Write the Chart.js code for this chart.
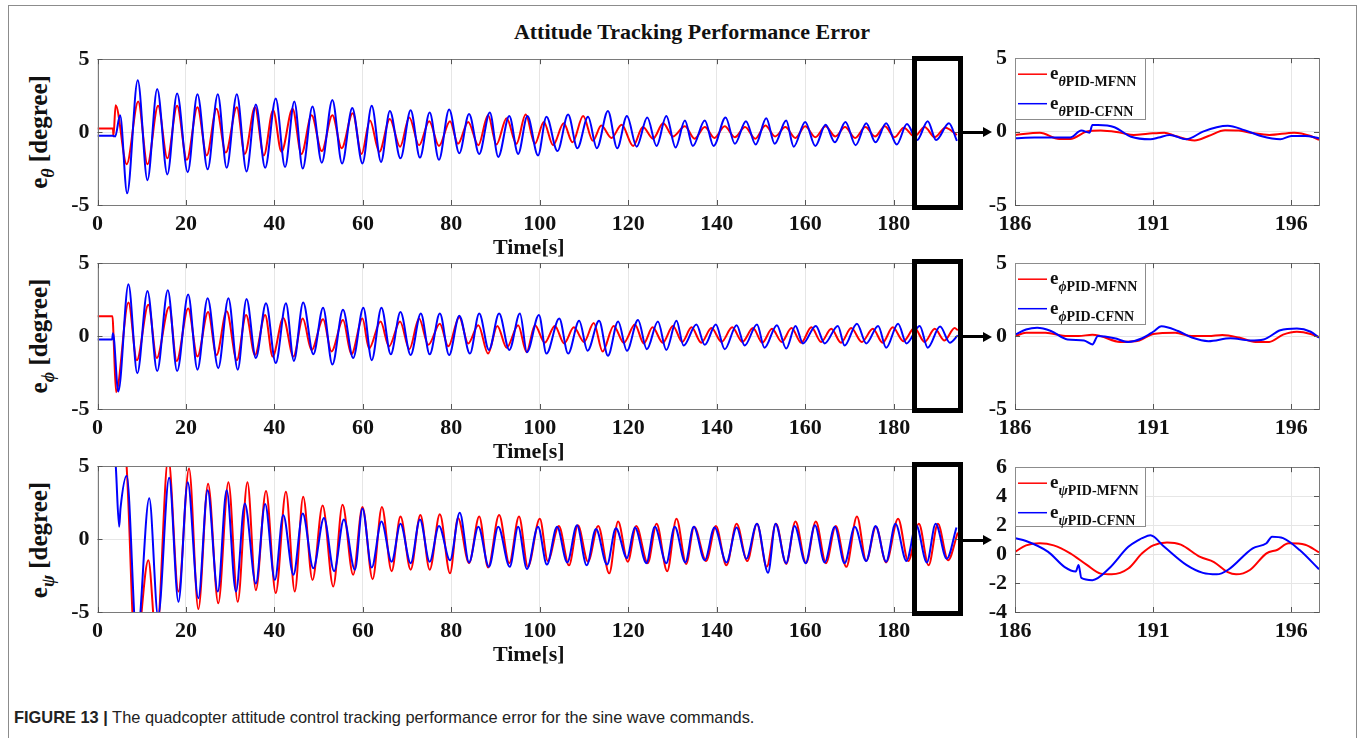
<!DOCTYPE html>
<html>
<head>
<meta charset="utf-8">
<script src="https://cdn.jsdelivr.net/npm/chart.js@4.4.1/dist/chart.umd.min.js"></script>
<style>
  body { margin: 0; background: #fff; width: 1358px; height: 738px; overflow: hidden; position: relative; font-family: 'Liberation Serif', serif; }
  .frame { position: absolute; left: 8px; top: 5px; width: 1347px; height: 760px; border: 1px solid #8c8c8c; }
  canvas { position: absolute; }
  .title { position: absolute; left: 692px; top: 32px; transform: translate(-50%, -50%); font-weight: bold; font-size: 22px; white-space: nowrap; color: #111; }
  .ylab { position: absolute; left: 42px; transform: translate(-50%, -50%) rotate(-90deg); font-weight: bold; font-size: 25px; white-space: nowrap; color: #111; }
  .ylab sub { font-size: 18px; font-style: italic; vertical-align: -7px; }
  .zoombox { position: absolute; border: 5px solid #000; box-sizing: border-box; }
  .arrow { position: absolute; height: 3px; background: #000; }
  .head { position: absolute; width: 0; height: 0; border-left: 9px solid #000; border-top: 5px solid transparent; border-bottom: 5px solid transparent; }
  .caption { position: absolute; left: 14px; top: 708px; font-family: 'Liberation Sans', sans-serif; font-size: 16.4px; color: #222; white-space: nowrap; }
</style>
</head>
<body>
<div class="frame"></div>
<div class="title">Attitude Tracking Performance Error</div>
<div class="ylab" style="top:132px">e<sub>θ</sub> [degree]</div>
<div class="ylab" style="top:336px">e<sub>ϕ</sub> [degree]</div>
<div class="ylab" style="top:540px">e<sub>ψ</sub> [degree]</div>
<div class="caption"><b>FIGURE 13 |</b> The quadcopter attitude control tracking performance error for the sine wave commands.</div>

<script>
// tick labels
const mainXTicks = [0, 20, 40, 60, 80, 100, 120, 140, 160, 180];
const mainYTicks = [-5, 0, 5];
const zoomXTicks = [186, 191, 196];
const zoomYTicks = [-5, 0, 5];
const zoomPsiYTicks = [-4, -2, 0, 2, 4, 6];

// series names
const seriesNames = ['PID-MFNN', 'PID-CFNN'];

// theta error, full run [time, value] read at peaks and troughs
const thetaMfnn = [[0,0.25],[3.5,0.25],[3.6,-0.3],[4.1,1.85],[6.6,-2.2],[9.2,2.1],[11.3,-2.2],[13.7,1.8],[15.8,-1.8],[18.0,1.8],[20.2,-1.9],[22.6,1.7],[24.7,-1.6],[26.9,1.6],[29.0,-1.4],[31.5,1.7],[33.3,-1.5],[35.6,1.7],[37.6,-1.6],[39.7,1.5],[41.6,-1.35],[44.1,1.6],[46.1,-1.5],[48.4,1.15],[50.7,-1.3],[53.1,1.15],[55.2,-1.1],[57.7,1.3],[59.7,-1.5],[61.6,0.8],[63.7,-1.35],[66.1,0.9],[68.4,-1.0],[70.5,1.0],[72.7,-0.9],[75.0,0.75],[77.2,-0.95],[79.7,0.75],[81.5,-0.8],[83.8,0.7],[86.1,-0.9],[88.3,1.15],[90.2,-0.85],[92.5,0.95],[94.7,-0.8],[96.8,1.2],[98.9,-0.8],[100.9,0.7],[103.0,-0.9],[105.4,0.6],[107.4,-0.7],[109.8,1.1],[112.0,-0.6],[113.9,0.45],[116.2,-0.4],[118.5,0.5],[121.1,-0.95],[123.3,0.35],[125.6,-0.45],[127.9,0.6],[130.1,-0.3],[132.8,0.4],[135.0,-0.45],[137.3,0.35],[139.5,-0.4],[141.8,0.4],[144.1,-0.35],[146.4,0.35],[148.7,-0.45],[151.0,0.45],[153.2,-0.3],[155.5,0.35],[157.8,-0.4],[160.0,0.4],[162.3,-0.35],[164.6,0.4],[166.8,-0.3],[169.0,0.35],[171.3,-0.4],[173.6,0.35],[175.8,-0.3],[178.0,0.4],[180.2,-0.35],[182.3,0.3],[184.7,-0.3],[187.0,0.35],[189.3,-0.35],[191.7,0.3],[194.3,-0.2]];
const thetaCfnn = [[0,-0.25],[3.5,-0.25],[4.0,-0.3],[5.1,1.15],[6.7,-4.2],[9.1,3.55],[11.3,-3.3],[13.5,2.95],[15.8,-2.9],[18.0,2.65],[20.4,-2.75],[22.6,2.6],[24.9,-2.55],[27.2,2.6],[29.2,-2.45],[31.5,2.6],[33.7,-2.7],[35.8,1.9],[37.9,-2.45],[40.3,2.3],[42.4,-2.4],[44.5,2.1],[46.4,-2.5],[48.6,1.75],[50.7,-2.1],[53.1,2.2],[55.3,-2.15],[57.6,1.65],[59.9,-2.15],[62.0,1.8],[64.1,-2.05],[66.1,1.45],[68.5,-1.8],[70.8,1.5],[72.9,-1.75],[75.1,1.35],[77.2,-1.9],[79.5,1.55],[81.8,-1.45],[84.0,1.25],[86.3,-1.5],[88.7,1.35],[90.6,-1.7],[93.1,1.1],[95.1,-1.5],[97.2,1.1],[99.6,-1.6],[101.5,1.05],[104.0,-1.3],[106.4,1.2],[108.5,-1.1],[110.9,1.05],[112.9,-1.1],[115.4,1.45],[117.5,-1.1],[119.7,1.1],[121.9,-1.0],[124.3,1.0],[126.4,-0.95],[128.6,1.1],[130.7,-1.05],[132.8,0.8],[134.6,-0.95],[137.3,0.8],[139.3,-0.95],[142.0,1.0],[144.1,-0.8],[146.6,0.75],[148.8,-0.85],[151.2,0.95],[153.1,-0.8],[155.7,0.8],[157.4,-1.0],[160.0,0.7],[162.3,-0.95],[164.6,0.5],[166.7,-0.7],[169.1,0.7],[171.4,-0.9],[173.8,0.6],[175.9,-0.7],[178.3,0.6],[180.7,-0.85],[183.0,0.55],[185.3,-0.55],[187.7,0.75],[189.6,-0.55],[192.5,0.6],[194.3,-0.6]];

// phi error, full run
const phiMfnn = [[0,1.37],[3.4,1.37],[3.6,0.2],[4.2,-3.85],[7.0,2.3],[8.9,-1.65],[11.5,2.15],[13.4,-1.5],[16.2,2.0],[17.9,-1.7],[20.5,1.9],[22.6,-1.4],[25.0,1.65],[26.9,-1.3],[29.2,1.7],[31.5,-1.65],[33.6,1.45],[35.6,-1.3],[37.9,1.45],[39.6,-1.4],[42.0,1.25],[44.3,-1.4],[46.4,1.2],[48.4,-0.95],[51.0,1.15],[52.9,-1.05],[55.5,1.1],[57.4,-1.25],[59.9,1.2],[61.4,-0.85],[64.0,1.0],[65.9,-0.7],[68.4,1.0],[70.5,-0.9],[72.7,1.2],[74.8,-0.6],[77.4,0.85],[79.3,-0.7],[81.8,1.3],[83.8,-0.5],[86.1,0.75],[88.3,-1.2],[90.4,0.7],[92.5,-0.8],[95.1,0.75],[97.0,-1.1],[98.9,0.75],[101.1,-0.45],[103.4,0.7],[105.5,-0.5],[107.7,0.6],[110.0,-0.4],[112.2,0.9],[114.2,-1.05],[116.7,0.7],[119.0,-0.45],[121.5,0.8],[123.5,-0.5],[125.5,0.6],[127.8,-0.45],[130.1,0.7],[132.2,-0.4],[134.3,0.6],[136.5,-0.45],[138.8,0.55],[141.1,-0.4],[143.5,0.6],[145.8,-0.4],[148.2,0.55],[150.3,-0.45],[152.5,0.5],[154.7,-0.4],[156.9,0.55],[159.1,-0.45],[161.4,0.6],[163.6,-0.4],[165.9,0.5],[168.1,-0.45],[170.4,0.55],[172.8,-0.4],[175.3,0.5],[177.5,-0.45],[179.8,0.6],[182.2,-0.35],[184.7,0.55],[187.0,-0.4],[189.3,0.5],[191.5,-0.3],[193.8,0.55],[194.5,0.4]];
const phiCfnn = [[0,-0.23],[3.3,-0.23],[3.5,0.2],[4.7,-3.8],[7.0,3.55],[9.0,-2.55],[11.3,3.1],[13.5,-2.4],[15.9,3.15],[18.0,-2.4],[20.5,2.85],[22.6,-2.3],[24.9,2.6],[27.3,-2.2],[29.6,2.6],[31.7,-2.3],[33.7,2.55],[35.8,-1.5],[38.1,2.25],[40.3,-1.85],[42.6,2.25],[44.4,-1.7],[46.5,2.3],[48.8,-1.25],[51.0,1.95],[53.1,-1.95],[55.5,1.8],[57.8,-1.5],[60.1,1.95],[62.0,-1.65],[64.2,1.95],[66.3,-1.25],[68.5,1.65],[70.8,-1.3],[73.1,1.55],[75.1,-1.25],[77.4,1.55],[79.5,-1.3],[81.8,1.4],[84.2,-1.2],[86.3,1.55],[88.5,-0.95],[90.8,1.55],[93.1,-0.95],[95.5,1.55],[97.1,-1.1],[99.8,1.45],[101.5,-1.2],[104.4,1.2],[106.4,-1.2],[108.9,1.05],[110.8,-1.0],[113.4,1.05],[115.4,-1.35],[117.7,1.0],[119.7,-1.0],[122.2,1.1],[124.2,-0.9],[126.7,1.0],[128.6,-0.95],[130.9,1.05],[132.5,-0.65],[135.4,0.8],[137.3,-0.6],[139.8,0.8],[141.8,-0.9],[144.5,0.75],[146.3,-0.65],[149.1,0.8],[150.8,-0.8],[153.6,0.75],[155.7,-0.85],[157.8,0.7],[159.5,-0.5],[162.4,0.7],[164.4,-0.5],[167.4,0.7],[168.9,-0.65],[171.7,0.85],[173.8,-0.5],[176.5,0.7],[178.3,-0.8],[181.0,0.85],[182.9,-0.5],[185.9,0.7],[187.7,-0.8],[190.5,0.65],[192.7,-0.45],[194.5,0.05]];

// psi error, full run (early swings leave the -5..5 window)
const psiMfnn = [[0,9],[6.3,6],[8.6,-8],[11.5,-1.45],[13.3,-7],[16.0,5.6],[18.3,-3.6],[20.7,4.85],[22.8,-4.8],[25.0,3.8],[27.3,-4.4],[29.6,3.9],[31.7,-4.3],[33.9,3.9],[35.8,-3.5],[38.1,3.3],[40.3,-3.7],[42.6,3.25],[44.6,-3.6],[46.5,2.9],[48.6,-2.8],[50.9,2.3],[53.3,-3.25],[55.4,2.35],[57.8,-2.45],[59.9,2.2],[62.2,-2.75],[64.3,2.2],[66.5,-2.2],[68.5,1.55],[70.8,-2.1],[73.0,1.65],[75.1,-2.1],[77.4,1.7],[79.7,-2.35],[81.5,1.45],[84.0,-1.65],[86.3,1.55],[88.3,-1.95],[90.8,1.65],[93.1,-1.65],[95.3,1.55],[97.3,-1.9],[100.0,1.4],[101.8,-1.5],[104.3,0.9],[106.6,-1.8],[108.6,0.95],[110.9,-1.55],[113.2,0.9],[115.7,-2.35],[117.7,1.2],[119.9,-1.55],[121.8,0.9],[124.4,-1.65],[126.4,1.05],[128.8,-2.2],[130.9,1.4],[133.1,-1.7],[134.9,0.85],[137.6,-1.5],[139.8,0.9],[142.2,-1.8],[144.5,1.05],[146.9,-1.5],[149.1,1.05],[151.3,-1.9],[153.4,1.05],[155.7,-1.7],[157.8,1.2],[160.2,-1.65],[162.4,1.2],[164.7,-1.65],[166.9,0.9],[169.3,-1.9],[171.7,1.55],[173.8,-1.5],[176.0,0.85],[178.3,-1.6],[181.0,1.4],[183.3,-1.5],[185.7,1.05],[187.9,-1.8],[190.0,1.05],[192.3,-1.45],[194.5,0.45]];
const psiCfnn = [[0,8],[4.0,5.5],[4.9,0.85],[5.2,2.1],[6.6,4.35],[8.9,-7],[11.7,2.8],[13.7,-5.3],[16.2,4.2],[18.3,-4.3],[20.4,3.9],[22.8,-4.05],[24.9,3.35],[27.2,-3.6],[29.2,3.35],[31.3,-3.6],[33.3,2.45],[35.8,-3.05],[37.9,2.4],[40.1,-2.8],[42.0,1.65],[44.3,-2.45],[46.4,1.75],[48.8,-2.0],[51.2,1.45],[53.5,-2.2],[55.7,1.35],[58.2,-2.1],[59.9,2.1],[62.0,-1.95],[64.2,1.2],[66.5,-1.55],[68.5,1.05],[70.8,-1.65],[72.9,1.35],[75.1,-1.55],[77.2,0.9],[79.7,-1.45],[81.9,1.8],[84.0,-1.6],[86.1,0.85],[88.5,-1.9],[90.6,0.85],[93.2,-1.9],[95.1,0.85],[97.1,-2.05],[99.6,0.85],[101.6,-1.75],[103.9,0.85],[106.2,-1.6],[108.4,0.95],[110.6,-1.8],[112.7,0.7],[115.2,-1.75],[117.2,0.75],[119.7,-1.3],[121.5,0.8],[124.1,-1.65],[126.0,0.85],[128.6,-1.65],[130.5,0.85],[132.9,-1.6],[134.8,0.85],[137.3,-1.45],[139.5,0.8],[142.2,-1.6],[144.5,0.8],[146.7,-1.35],[149.1,1.05],[151.6,-2.3],[153.3,1.05],[155.7,-1.65],[157.6,0.9],[160.1,-1.65],[162.2,0.95],[164.4,-1.6],[166.7,0.85],[168.9,-1.65],[171.2,0.85],[173.8,-1.5],[175.9,0.9],[178.3,-1.55],[180.4,1.05],[182.9,-1.5],[185.1,0.95],[187.5,-1.6],[189.5,1.05],[192.0,-1.35],[194.2,0.8]];

// zoomed windows 186..197 s
const thetaMfnnZoom = [[186.0,-0.23],[186.9,-0.07],[187.6,-0.5],[188.0,-0.5],[188.6,0],[189.1,0.07],[189.8,-0.07],[190.3,-0.23],[190.8,-0.15],[191.4,-0.07],[191.8,-0.3],[192.5,-0.6],[193.0,-0.3],[193.6,0.1],[194.1,0.07],[194.6,-0.1],[195.2,-0.23],[196.1,-0.07],[196.7,-0.3],[197.0,-0.57]];
const thetaCfnnZoom = [[186.0,-0.45],[186.7,-0.4],[187.4,-0.4],[188.0,-0.4],[188.4,0.07],[188.7,-0.07],[188.8,0.45],[189.0,0.45],[189.6,0.3],[190.2,-0.35],[190.9,-0.52],[191.2,-0.4],[191.6,-0.23],[192.2,-0.52],[192.8,0],[193.3,0.3],[193.7,0.4],[194.3,0.1],[194.9,-0.3],[195.6,-0.52],[196.0,-0.3],[196.5,-0.3],[197.0,-0.45]];
const phiMfnnZoom = [[186.0,0],[186.4,0.23],[187.1,0.23],[187.9,0],[188.3,0],[188.8,0.1],[189.1,0],[189.8,-0.4],[190.5,-0.3],[191.0,0.15],[191.8,0.23],[192.4,0],[193.0,0],[193.5,0.07],[194.1,-0.1],[194.7,-0.4],[195.2,-0.4],[195.7,0.1],[196.2,0.3],[196.7,0.15],[197.0,-0.07]];
const phiCfnnZoom = [[186.0,0.1],[186.4,0.45],[186.8,0.57],[187.3,0.35],[187.9,-0.23],[188.5,-0.3],[188.8,-0.57],[189.0,0],[189.6,-0.15],[190.1,-0.4],[190.6,-0.15],[191.0,0.3],[191.3,0.68],[191.9,0.35],[192.4,-0.1],[193.0,-0.35],[193.8,-0.15],[194.5,-0.3],[195.0,-0.23],[195.6,0.4],[196.2,0.52],[196.7,0.3],[197.0,-0.1]];
const psiMfnnZoom = [[186.0,0.16],[186.4,0.6],[186.9,0.75],[187.4,0.6],[188.0,0.05],[188.6,-0.75],[189.1,-1.35],[189.5,-1.4],[190.1,-1.0],[190.6,0.05],[191.0,0.6],[191.5,0.8],[192.0,0.65],[192.7,-0.2],[193.2,-0.55],[193.7,-1.25],[194.0,-1.4],[194.5,-1.1],[195.1,0.05],[195.5,0.3],[195.9,0.75],[196.5,0.65],[197.0,0.12]];
const psiCfnnZoom = [[186.0,1.1],[186.4,0.9],[187.2,0.15],[187.8,-0.9],[188.2,-1.2],[188.3,-0.75],[188.4,-1.65],[188.8,-1.8],[189.4,-1.0],[190.1,0.5],[190.5,1.0],[190.6,1.1],[190.9,1.3],[191.4,0.5],[192.2,-0.75],[192.8,-1.3],[193.3,-1.4],[193.7,-1.1],[194.6,0.4],[195.1,0.75],[195.3,1.2],[195.7,1.1],[196.3,0.28],[197.0,-1.05]];

const RED = '#ff0000';
const BLUE = '#0000ff';
const serif = "'Liberation Serif', 'Times New Roman', serif";
const tickFont = { family: serif, size: 22, weight: 'bold' };

// MATLAB-like box with inward tick marks
const boxPlugin = {
  id: 'matlabBox',
  afterDraw(chart) {
    const { ctx, chartArea: a, scales } = chart;
    ctx.save();
    ctx.strokeStyle = '#7a7a7a';
    ctx.lineWidth = 1;
    ctx.strokeRect(Math.round(a.left) + 0.5, Math.round(a.top) + 0.5, Math.round(a.right - a.left), Math.round(a.bottom - a.top));
    ctx.strokeStyle = '#555';
    ctx.beginPath();
    scales.x.ticks.forEach(t => {
      const px = Math.round(scales.x.getPixelForValue(t.value)) + 0.5;
      ctx.moveTo(px, a.bottom); ctx.lineTo(px, a.bottom - 5);
      ctx.moveTo(px, a.top); ctx.lineTo(px, a.top + 5);
    });
    scales.y.ticks.forEach(t => {
      const py = Math.round(scales.y.getPixelForValue(t.value)) + 0.5;
      ctx.moveTo(a.left, py); ctx.lineTo(a.left + 5, py);
      ctx.moveTo(a.right, py); ctx.lineTo(a.right - 5, py);
    });
    ctx.stroke();
    ctx.restore();
  }
};

// legend with subscripted symbol, top-left of the zoom panels
const zoomLegend = {
  id: 'zoomLegend',
  afterDraw(chart, args, opts) {
    const { ctx, chartArea: a } = chart;
    ctx.save();
    ctx.fillStyle = '#fff';
    ctx.fillRect(a.left, a.top, opts.w, opts.h);
    ctx.strokeStyle = '#8c8c8c';
    ctx.lineWidth = 1;
    ctx.strokeRect(Math.round(a.left) + 0.5, Math.round(a.top) + 0.5, opts.w, opts.h);
    chart.data.datasets.forEach((ds, i) => {
      const y = a.top + 16 + i * 29.5;
      ctx.strokeStyle = ds.borderColor;
      ctx.lineWidth = 1.5;
      ctx.beginPath(); ctx.moveTo(a.left + 3, y); ctx.lineTo(a.left + 32, y); ctx.stroke();
      ctx.fillStyle = '#111';
      let x = a.left + 35;
      ctx.font = `bold 19px ${serif}`;
      ctx.fillText('e', x, y + 5);
      x += ctx.measureText('e').width;
      ctx.font = `italic bold 14px ${serif}`;
      ctx.fillText(opts.sym, x, y + 12);
      x += ctx.measureText(opts.sym).width;
      ctx.font = `bold 14px ${serif}`;
      ctx.fillText(ds.label, x, y + 12);
    });
    ctx.restore();
  }
};

function makeChart(g, red, blue, xr, xt, yr, yt, xTitle, legend) {
  const c = document.createElement('canvas');
  c.style.left = g.left + 'px';
  document.body.appendChild(c);
  const line = (pts, color, name, order) => ({
    label: name,
    data: pts.map(p => ({ x: p[0], y: p[1] })),
    borderColor: color,
    borderWidth: 2,
    pointRadius: 0,
    cubicInterpolationMode: 'monotone',
    order: order
  });
  const config = () => ({
    type: 'line',
    data: { datasets: [line(red, RED, seriesNames[0], 1), line(blue, BLUE, seriesNames[1], 0)] },
    plugins: legend ? [boxPlugin, zoomLegend] : [boxPlugin],
    options: {
      responsive: false,
      devicePixelRatio: 1,
      animation: false,
      layout: { padding: { top: 14, right: 6, left: 0, bottom: 0 } },
      plugins: {
        legend: { display: false },
        tooltip: { enabled: false },
        zoomLegend: legend || {}
      },
      scales: {
        x: {
          type: 'linear', min: xr[0], max: xr[1],
          afterBuildTicks: s => { s.ticks = xt.map(v => ({ value: v })); },
          afterFit: s => { s.height = g.xh; },
          grid: { color: '#e6e6e6', drawTicks: false },
          border: { display: false },
          ticks: { font: tickFont, color: '#111', padding: 6, maxRotation: 0, autoSkip: false },
          title: { display: !!xTitle, text: xTitle, color: '#111', font: { family: serif, size: 22, weight: 'bold' }, padding: { top: 0, bottom: 5 } }
        },
        y: {
          type: 'linear', min: yr[0], max: yr[1],
          afterBuildTicks: s => { s.ticks = yt.map(v => ({ value: v })); },
          afterFit: s => { s.width = g.yw; },
          grid: { color: '#e6e6e6', drawTicks: false },
          border: { display: false },
          ticks: { font: tickFont, color: '#111', padding: 8, autoSkip: false }
        }
      }
    }
  });
  // first pass finds where the plot area starts inside the canvas
  c.width = g.w; c.height = 14 + g.ph + g.xh + 40;
  const probe = new Chart(c, config());
  const dt = probe.chartArea.top;
  probe.destroy();
  c.width = g.w; c.height = Math.round(dt + g.ph + g.xh);
  c.style.top = (g.plotTop - dt) + 'px';
  return new Chart(c, config());
}

const mainTops = [59, 263, 466];
const zoomTops = [58, 263, 467];
const zoomHeights = [147, 146, 145];
const full = [[thetaMfnn, thetaCfnn], [phiMfnn, phiCfnn], [psiMfnn, psiCfnn]];
const zoomed = [[thetaMfnnZoom, thetaCfnnZoom], [phiMfnnZoom, phiCfnnZoom], [psiMfnnZoom, psiCfnnZoom]];
const syms = ['θ', 'ϕ', 'ψ'];
const legendH = [61, 61, 59];

for (let i = 0; i < 3; i++) {
  makeChart({ left: 50, plotTop: mainTops[i], ph: 146, w: 916, xh: 62, yw: 47.5 },
    full[i][0], full[i][1], [0, 195], mainXTicks, [-5, 5], mainYTicks, 'Time[s]', null);
  makeChart({ left: 960, plotTop: zoomTops[i], ph: zoomHeights[i], w: 365, xh: 40, yw: 55 },
    zoomed[i][0], zoomed[i][1], [186, 197], zoomXTicks,
    i === 2 ? [-4, 6] : [-5, 5], i === 2 ? zoomPsiYTicks : zoomYTicks, '', { sym: syms[i], w: 130, h: legendH[i] });
}

// black zoom-window frames and arrows
const boxTops = [56, 259, 462];
const arrowYs = [132, 336.5, 540];
for (let i = 0; i < 3; i++) {
  const b = document.createElement('div');
  b.className = 'zoombox';
  b.style.cssText = `left:912px;top:${boxTops[i]}px;width:51px;height:154px;`;
  document.body.appendChild(b);
  const a = document.createElement('div');
  a.className = 'arrow';
  a.style.cssText = `left:962px;top:${arrowYs[i] - 1.5}px;width:22px;`;
  document.body.appendChild(a);
  const h = document.createElement('div');
  h.className = 'head';
  h.style.cssText = `left:983px;top:${arrowYs[i] - 5}px;`;
  document.body.appendChild(h);
}
</script>
</body>
</html>
